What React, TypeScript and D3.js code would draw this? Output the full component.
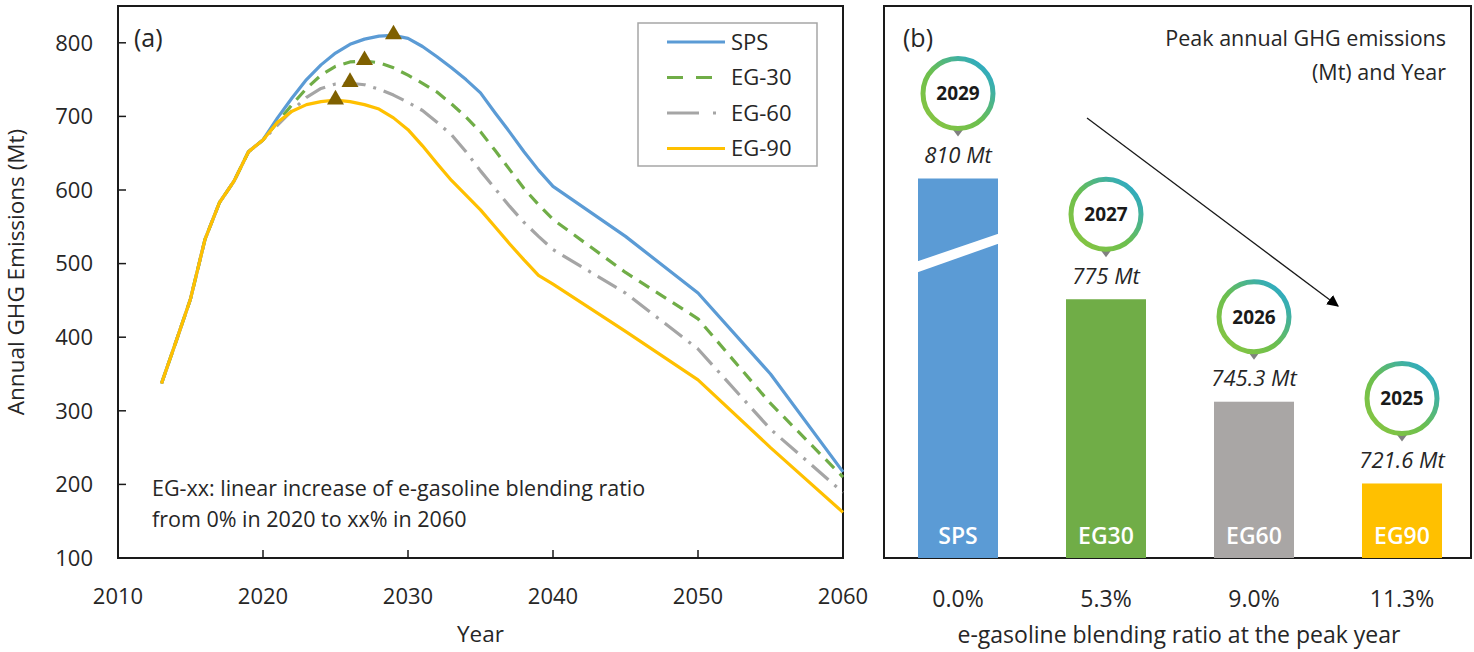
import React from "react";
import * as d3 from "d3";

// ---------- Panel (a) data ----------
const histYears = [2013, 2014, 2015, 2016, 2017, 2018, 2019];
const histValues = [337, 394, 452, 533, 583, 612, 652];

const projYears = [
  2020, 2021, 2022, 2023, 2024, 2025, 2026, 2027, 2028, 2029, 2030, 2031, 2032,
  2033, 2034, 2035, 2036, 2037, 2038, 2039, 2040, 2045, 2050, 2055, 2060,
];
const spsValues = [668, 698, 725, 750, 770, 786, 798, 805, 809, 810, 806, 795, 781, 766, 750, 732, 705, 679, 652, 627, 605, 537, 460, 350, 217];
const eg30Values = [668, 692, 716, 738, 756, 768, 774, 775, 773, 766, 756, 745, 733, 717, 699, 679, 654, 628, 602, 580, 560, 488, 425, 310, 210];
const eg60Values = [668, 688, 708, 726, 738, 744, 745, 743, 737, 729, 719, 708, 692, 675, 652, 626, 602, 578, 556, 537, 519, 460, 384, 275, 189];
const eg90Values = [668, 692, 707, 716, 720, 722, 720, 716, 710, 698, 682, 660, 636, 613, 593, 573, 550, 527, 505, 484, 472, 408, 342, 250, 162];

const seriesNames = ["SPS", "EG-30", "EG-60", "EG-90"];
const seriesColors = ["#5b9bd5", "#70ad47", "#a5a5a5", "#ffc000"];
const seriesDash = ["none", "12,8", "22,8,3,8", "none"];
const peakYearsA = [2029, 2027, 2026, 2025];
const peakValuesA = [810, 775, 745.3, 721.6];

const xTicksA = [2010, 2020, 2030, 2040, 2050, 2060];
const yTicksA = [100, 200, 300, 400, 500, 600, 700, 800];

// ---------- Panel (b) data ----------
const scenarios = ["SPS", "EG30", "EG60", "EG90"];
const peakValues = [810, 775, 745.3, 721.6];
const peakYears = [2029, 2027, 2026, 2025];
const blendRatios = ["0.0%", "5.3%", "9.0%", "11.3%"];
const barColors = ["#5b9bd5", "#70ad47", "#a9a6a5", "#ffc000"];

const FONT = "'Open Sans', sans-serif";
const TXT = "#262626";

export default function App() {
  const allSeries = [spsValues, eg30Values, eg60Values, eg90Values];

  // panel a
  const xA = d3.scaleLinear().domain([2010, 2060]).range([118, 843]);
  const yA = d3.scaleLinear().domain([100, 850]).range([558, 6]);
  const line = d3
    .line<[number, number]>()
    .x((d) => xA(d[0]))
    .y((d) => yA(d[1]))
    .curve(d3.curveLinear);
  const seriesPts = allSeries.map((vals) => {
    const pts: [number, number][] = histYears.map((y, i) => [y, histValues[i]]);
    projYears.forEach((y, i) => pts.push([y, vals[i]]));
    return pts;
  });
  const tri = d3.symbol().type(d3.symbolTriangle).size(125)();

  // panel b
  const xB = d3.scalePoint<string>().domain(scenarios).range([884, 1476]).padding(0.5);
  const yB = d3.scaleLinear().domain([700, 860]).range([558, 6]);
  const barW = 80;

  return (
    <div style={{ position: "absolute", left: 0, top: 0 }}>
      <svg width={1474} height={652} style={{ display: "block" }} fontFamily={FONT}>
        <defs>
          <linearGradient id="ringGrad" x1="0" y1="1" x2="1" y2="0">
            <stop offset="0%" stopColor="#8cc63f" />
            <stop offset="45%" stopColor="#6cbf4e" />
            <stop offset="100%" stopColor="#1fa6e0" />
          </linearGradient>
          <marker id="arrowHead" viewBox="0 0 10 10" refX="9" refY="5" markerWidth="9" markerHeight="9" orient="auto">
            <path d="M0,0 L10,5 L0,10 z" fill="#000" />
          </marker>
        </defs>
        <rect width={1474} height={652} fill="#fff" />

        {/* ===== Panel (a) ===== */}
        <rect x={118} y={6} width={725} height={552} fill="none" stroke="#1a1a1a" strokeWidth={2} />
        {yTicksA.map((t) => (
          <g key={"yt" + t}>
            <line x1={118} x2={126} y1={yA(t)} y2={yA(t)} stroke="#1a1a1a" strokeWidth={1.5} />
            <text x={93} y={yA(t)} dy="0.35em" textAnchor="end" fontSize={22} fill={TXT}>
              {t}
            </text>
          </g>
        ))}
        {xTicksA.map((t) => (
          <g key={"xt" + t}>
            <line x1={xA(t)} x2={xA(t)} y1={558} y2={550} stroke="#1a1a1a" strokeWidth={1.5} />
            <text x={xA(t)} y={596} dy="0.35em" textAnchor="middle" fontSize={22} fill={TXT}>
              {t}
            </text>
          </g>
        ))}
        <text x={xA(2035)} y={634} dy="0.35em" textAnchor="middle" fontSize={22.5} fill={TXT}>
          Year
        </text>
        <text
          transform={`translate(16,${(6 + 558) / 2 - 10}) rotate(-90)`}
          dy="0.35em"
          textAnchor="middle"
          fontSize={22.5}
          fill={TXT}
        >
          Annual GHG Emissions (Mt)
        </text>
        <text x={134} y={38} dy="0.35em" fontSize={25} fill={TXT}>
          (a)
        </text>

        {seriesPts.map((pts, i) => (
          <path
            key={"ln" + i}
            d={line(pts) || ""}
            fill="none"
            stroke={seriesColors[i]}
            strokeWidth={3.2}
            strokeDasharray={seriesDash[i]}
            strokeLinejoin="round"
          />
        ))}
        {peakYearsA.map((yr, i) => (
          <path
            key={"pk" + i}
            d={tri || ""}
            transform={`translate(${xA(yr)},${yA(peakValuesA[i]) - 1})`}
            fill="#7f6000"
          />
        ))}

        {/* legend */}
        <rect x={638} y={23} width={179} height={143} fill="#fff" stroke="#a6a6a6" strokeWidth={1.5} />
        {seriesNames.map((n, i) => (
          <g key={"lg" + i}>
            <line
              x1={667}
              x2={725}
              y1={42 + i * 35.5}
              y2={42 + i * 35.5}
              stroke={seriesColors[i]}
              strokeWidth={3.2}
              strokeDasharray={i === 1 ? "16,13" : i === 2 ? "32,14,3,14" : "none"}
            />
            <text x={731} y={42 + i * 35.5} dy="0.35em" fontSize={22} fill={TXT}>
              {n}
            </text>
          </g>
        ))}

        <text x={152} y={488} dy="0.35em" fontSize={21.5} fill={TXT}>
          EG-xx: linear increase of e-gasoline blending ratio
        </text>
        <text x={152} y={519} dy="0.35em" fontSize={21.5} fill={TXT}>
          from 0% in 2020 to xx% in 2060
        </text>

        {/* ===== Panel (b) ===== */}
        <rect x={884} y={6} width={587} height={552} fill="none" stroke="#1a1a1a" strokeWidth={2} />
        <text x={903} y={38} dy="0.35em" fontSize={25} fill={TXT}>
          (b)
        </text>
        <text x={1446} y={38} dy="0.35em" textAnchor="end" fontSize={21.5} fill={TXT}>
          Peak annual GHG emissions
        </text>
        <text x={1446} y={72} dy="0.35em" textAnchor="end" fontSize={21.5} fill={TXT}>
          (Mt) and Year
        </text>

        {scenarios.map((s, i) => {
          const cx = xB(s) as number;
          const top = yB(peakValues[i]);
          const cy = top - 85;
          return (
            <g key={"bar" + s}>
              <rect x={cx - barW / 2} y={top} width={barW} height={558 - top} fill={barColors[i]} />
              {i === 0 && (
                <polygon
                  points={`${cx - barW / 2 - 1},${top + 83} ${cx + barW / 2 + 1},${top + 55} ${cx + barW / 2 + 1},${top + 65} ${cx - barW / 2 - 1},${top + 94}`}
                  fill="#fff"
                />
              )}
              <text x={cx} y={536} dy="0.35em" textAnchor="middle" fontSize={23} fontWeight={600} fill="#fff">
                {s}
              </text>
              <text x={cx} y={top - 23} dy="0.35em" textAnchor="middle" fontSize={22} fontStyle="italic" fill={TXT}>
                {`${peakValues[i]} Mt`}
              </text>
              <path d={`M${cx - 6},${cy + 35} L${cx + 6},${cy + 35} L${cx},${cy + 43} z`} fill="#808080" />
              <circle cx={cx} cy={cy} r={35} fill="#fff" stroke="url(#ringGrad)" strokeWidth={5} />
              <text x={cx} y={cy} dy="0.36em" textAnchor="middle" fontSize={19} fontWeight={700} fill="#1a1a1a">
                {peakYears[i]}
              </text>
              <text x={cx} y={599} dy="0.35em" textAnchor="middle" fontSize={23} fill={TXT}>
                {blendRatios[i]}
              </text>
            </g>
          );
        })}
        <line x1={1087} y1={118} x2={1338} y2={306} stroke="#1a1a1a" strokeWidth={1.3} markerEnd="url(#arrowHead)" />
        <text x={1179} y={635} dy="0.35em" textAnchor="middle" fontSize={23} fill={TXT}>
          e-gasoline blending ratio at the peak year
        </text>
      </svg>
    </div>
  );
}
